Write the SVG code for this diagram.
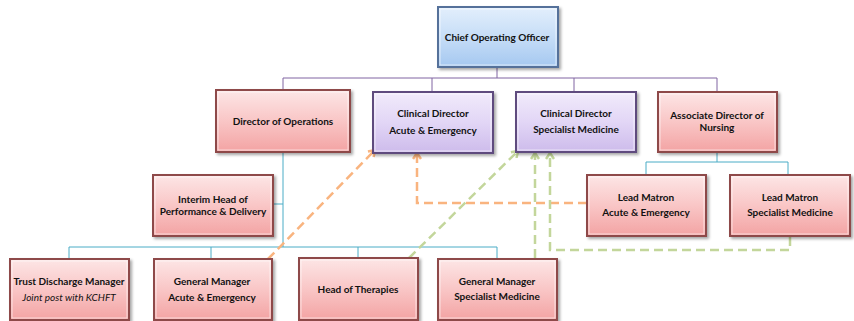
<svg xmlns="http://www.w3.org/2000/svg" width="854" height="321" viewBox="0 0 854 321">
<defs>
<linearGradient id="gPink" x1="0" y1="0" x2="0" y2="1">
<stop offset="0" stop-color="#FDE6E6"/><stop offset="0.5" stop-color="#F9C6C6"/><stop offset="1" stop-color="#F3A3A3"/>
</linearGradient>
<linearGradient id="gPurple" x1="0" y1="0" x2="0" y2="1">
<stop offset="0" stop-color="#F1EBFB"/><stop offset="0.5" stop-color="#E2D6F6"/><stop offset="1" stop-color="#CDBBEB"/>
</linearGradient>
<linearGradient id="gBlue" x1="0" y1="0" x2="0" y2="1">
<stop offset="0" stop-color="#E3EFFC"/><stop offset="0.5" stop-color="#C6DDF7"/><stop offset="1" stop-color="#A5C8F0"/>
</linearGradient>
<filter id="sh" x="-10%" y="-10%" width="125%" height="130%">
<feDropShadow dx="2" dy="2" stdDeviation="1.5" flood-color="#000" flood-opacity="0.35"/>
</filter>
<marker id="aO" viewBox="0 0 10 10" refX="8" refY="5" markerWidth="10" markerHeight="10" markerUnits="userSpaceOnUse" orient="auto">
<path d="M2,1 L8,5 L2,9" fill="none" stroke="#F9B47F" stroke-width="2.5"/>
</marker>
<marker id="aG" viewBox="0 0 10 10" refX="8" refY="5" markerWidth="10" markerHeight="10" markerUnits="userSpaceOnUse" orient="auto">
<path d="M2,1 L8,5 L2,9" fill="none" stroke="#C3D69B" stroke-width="2.5"/>
</marker>
</defs>
<style>
.pink{fill:url(#gPink);stroke:#8E4A4A;stroke-width:2;filter:url(#sh)}
.purple{fill:url(#gPurple);stroke:#5E4C7E;stroke-width:2;filter:url(#sh)}
.blue{fill:url(#gBlue);stroke:#55719A;stroke-width:2;filter:url(#sh)}
.inner{fill:none;stroke:#ffffff;stroke-opacity:0.6;stroke-width:1}
text{font-family:Lato,"Liberation Sans",sans-serif;font-size:10px;font-weight:bold;fill:#111;text-anchor:middle}
.it{font-style:italic;font-weight:normal}
.lp{fill:none;stroke:#8064A2;stroke-width:1}
.lb{fill:none;stroke:#4BACC6;stroke-width:1}
.dO{fill:none;stroke:#F9B47F;stroke-width:2.5;stroke-dasharray:9 5;marker-end:url(#aO)}
.dG{fill:none;stroke:#C3D69B;stroke-width:2.5;stroke-dasharray:9 5;marker-end:url(#aG)}
</style>
<g id="connectors">
<path class="lp" d="M497,67 V78 M283,78 H717 M283,78 V91 M432,78 V92 M574,78 V92 M717,78 V92"/>
<path class="lb" d="M283,152 V247 M273,204 H283 M69,247 H497 M69,247 V259 M211,247 V259 M358,247 V258 M497,247 V259"/>
<path class="lb" d="M717,152 V162 M646,162 H788 M646,162 V175 M788,162 V175"/>
<path class="dO" d="M268,259 L375,150"/>
<path class="dO" d="M587,203 H417 V153"/>
<path class="dG" d="M409,258 L518,151"/>
<path class="dG" d="M535,258 V153"/>
<path class="dG" d="M790,237 V250 H550 V153"/>
</g>
<g id="coo">
<rect class="blue" x="438" y="7" width="120" height="60"/>
<rect class="inner" x="440" y="9" width="116" height="56"/>
<text x="497" y="41">Chief Operating Officer</text>
</g>
<g id="dir-ops">
<rect class="pink" x="216" y="90" width="134" height="62"/>
<rect class="inner" x="218" y="92" width="130" height="58"/>
<text x="283" y="125">Director of Operations</text>
</g>
<g id="cd-ae">
<rect class="purple" x="373" y="92" width="120" height="61"/>
<rect class="inner" x="375" y="94" width="116" height="57"/>
<text x="433" y="117">Clinical Director</text>
<text x="433" y="134">Acute &amp; Emergency</text>
</g>
<g id="cd-sm">
<rect class="purple" x="516" y="92" width="120" height="60"/>
<rect class="inner" x="518" y="94" width="116" height="56"/>
<text x="576" y="117">Clinical Director</text>
<text x="576" y="133">Specialist Medicine</text>
</g>
<g id="adn">
<rect class="pink" x="658" y="92" width="119" height="60"/>
<rect class="inner" x="660" y="94" width="115" height="56"/>
<text x="717" y="119">Associate Director of</text>
<text x="717" y="131">Nursing</text>
</g>
<g id="interim">
<rect class="pink" x="153" y="175" width="120" height="61"/>
<rect class="inner" x="155" y="177" width="116" height="57"/>
<text x="213" y="203">Interim Head of</text>
<text x="213" y="215">Performance &amp; Delivery</text>
</g>
<g id="lm-ae">
<rect class="pink" x="587" y="175" width="119" height="61"/>
<rect class="inner" x="589" y="177" width="115" height="57"/>
<text x="646" y="201">Lead Matron</text>
<text x="646" y="216">Acute &amp; Emergency</text>
</g>
<g id="lm-sm">
<rect class="pink" x="730" y="175" width="120" height="61"/>
<rect class="inner" x="732" y="177" width="116" height="57"/>
<text x="790" y="201">Lead Matron</text>
<text x="790" y="216">Specialist Medicine</text>
</g>
<g id="tdm">
<rect class="pink" x="10" y="259" width="119" height="61"/>
<rect class="inner" x="12" y="261" width="115" height="57"/>
<text x="69" y="285">Trust Discharge Manager</text>
<text class="it" x="69" y="301">Joint post with KCHFT</text>
</g>
<g id="gm-ae">
<rect class="pink" x="154" y="259" width="118" height="61"/>
<rect class="inner" x="156" y="261" width="114" height="57"/>
<text x="212" y="285">General Manager</text>
<text x="212" y="301">Acute &amp; Emergency</text>
</g>
<g id="hot">
<rect class="pink" x="299" y="258" width="119" height="62"/>
<rect class="inner" x="301" y="260" width="115" height="58"/>
<text x="358" y="293">Head of Therapies</text>
</g>
<g id="gm-sm">
<rect class="pink" x="438" y="259" width="119" height="61"/>
<rect class="inner" x="440" y="261" width="115" height="57"/>
<text x="497" y="285">General Manager</text>
<text x="497" y="300">Specialist Medicine</text>
</g>
</svg>
